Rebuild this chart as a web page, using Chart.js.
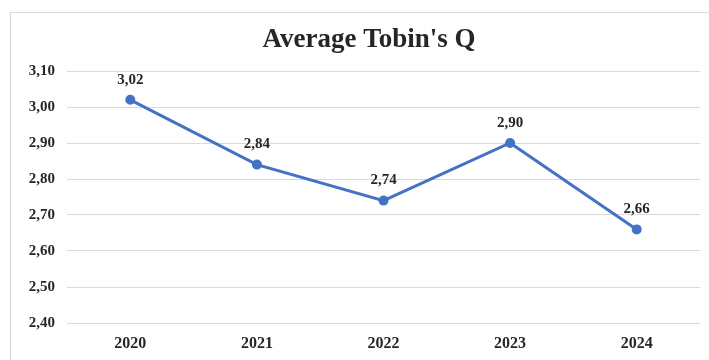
<!DOCTYPE html>
<html>
<head>
<meta charset="utf-8">
<script src="https://cdn.jsdelivr.net/npm/chart.js@4.4.0/dist/chart.umd.min.js"></script>
<style>
    html, body { margin: 0; padding: 0; background: #fff; overflow: hidden; width: 709px; height: 360px; }
    #frame { position: absolute; left: 10px; top: 12px; width: 716px; height: 360px; border: 1px solid #d9d9d9; background: #fff; }
    #wrap { position: relative; width: 716px; height: 347px; }
</style>
</head>
<body>
<div id="frame">
    <div id="wrap"><canvas id="tobinChart"></canvas></div>
</div>
<script>
    // Data for chart
    const years = ['2020', '2021', '2022', '2023', '2024'];
    const tobinQ = [3.02, 2.84, 2.74, 2.90, 2.66];
    const yTicks = [2.40, 2.50, 2.60, 2.70, 2.80, 2.90, 3.00, 3.10];
    const chartTitle = "Average Tobin's Q";

    const lineColor = '#4472c4';
    const textColor = '#262626';
    const serif = '"Liberation Serif", "DejaVu Serif", serif';

    const fmt = v => v.toFixed(2).replace('.', ',');

    // value labels above each point
    const pointLabels = {
        id: 'pointLabels',
        afterDatasetsDraw(chart) {
            const ctx = chart.ctx;
            const meta = chart.getDatasetMeta(0);
            ctx.save();
            ctx.font = 'bold 15px ' + serif;
            ctx.fillStyle = textColor;
            ctx.textAlign = 'center';
            ctx.textBaseline = 'middle';
            meta.data.forEach((pt, i) => {
                ctx.fillText(fmt(tobinQ[i]), pt.x, pt.y - 20);
            });
            ctx.restore();
        }
    };

    // title centred on the whole frame, not on the plot area
    const frameTitle = {
        id: 'frameTitle',
        afterDraw(chart) {
            const ctx = chart.ctx;
            ctx.save();
            ctx.font = 'bold 27px ' + serif;
            ctx.fillStyle = textColor;
            ctx.textAlign = 'center';
            ctx.textBaseline = 'middle';
            ctx.fillText(chartTitle, chart.width / 2, 27);
            ctx.restore();
        }
    };

    new Chart(document.getElementById('tobinChart'), {
        type: 'line',
        data: {
            labels: years,
            datasets: [{
                data: tobinQ,
                borderColor: lineColor,
                backgroundColor: lineColor,
                borderWidth: 3,
                pointRadius: 3.5,
                pointHoverRadius: 3.5,
                pointBackgroundColor: lineColor,
                pointBorderColor: lineColor,
                tension: 0
            }]
        },
        options: {
            responsive: true,
            maintainAspectRatio: false,
            animation: false,
            layout: { padding: { left: 0, right: 27, top: 58, bottom: 0 } },
            scales: {
                x: {
                    offset: true,
                    grid: { display: false },
                    border: { display: false },
                    ticks: {
                        color: textColor,
                        font: { family: serif, size: 16, weight: 'bold' },
                        padding: 3
                    },
                    afterFit(axis) { axis.height = 37; }
                },
                y: {
                    min: yTicks[0],
                    max: yTicks[yTicks.length - 1],
                    afterBuildTicks(axis) { axis.ticks = yTicks.map(v => ({ value: v })); },
                    grid: { color: '#d9d9d9', lineWidth: 1, drawTicks: false },
                    border: { display: false },
                    ticks: {
                        color: textColor,
                        font: { family: serif, size: 15, weight: 'bold' },
                        padding: 12,
                        callback: v => fmt(v)
                    },
                    afterFit(axis) { axis.width = 56; }
                }
            },
            plugins: {
                legend: { display: false },
                tooltip: { enabled: false },
                title: { display: false }
            }
        },
        plugins: [pointLabels, frameTitle]
    });
</script>
</body>
</html>
